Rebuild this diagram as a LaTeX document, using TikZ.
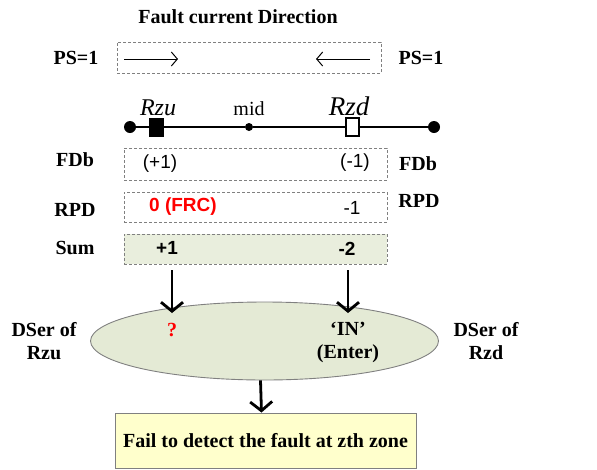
\documentclass[tikz,border=0pt]{standalone}
\usepackage{fontspec}
\setmainfont{Liberation Serif}
\setsansfont{Liberation Sans}
\usepackage{xcolor}
\usetikzlibrary{arrows.meta,positioning,shapes.geometric}

\definecolor{sumgreen}{HTML}{E9EEDD}
\definecolor{dsergreen}{HTML}{E4EAD5}
\definecolor{failyellow}{HTML}{FFFFCC}

\tikzset{
  lab/.style={font=\fontsize{20}{23}\selectfont\bfseries, inner sep=0pt},
  num/.style={font=\fontsize{19}{22}\selectfont\sffamily, inner sep=0pt},
  dbox/.style={draw=gray, dash pattern=on 3pt off 2pt, line width=0.9pt,
    inner sep=0pt, minimum width=263pt},
  relay/.style={draw, line width=1.2pt, minimum width=13pt, minimum height=18pt,
    inner sep=0pt},
  bus/.style={circle, fill, inner sep=0pt},
  bigarrow/.style={line width=2.8pt, -{Straight Barb[length=9pt,width=22pt]}},
}

\begin{document}
\begin{tikzpicture}[x=1pt, y=-1pt]
  \useasboundingbox (0,0) rectangle (597,469);

  % Title
  \node[lab] (title) at (238,17) {Fault current Direction};

  % PS box with the two current arrows
  \node[dbox, minimum width=264pt, minimum height=31pt] (psbox) at (249,57.5) {};
  \node[lab, left=18pt of psbox] (psL) {PS=1};
  \node[lab, right=17pt of psbox] (psR) {PS=1};
  \coordinate (arrLa) at (124,59);
  \coordinate (arrLb) at (178,59);
  \coordinate (arrRa) at (370,59);
  \coordinate (arrRb) at (316,59);
  \draw[line width=1pt, -{Straight Barb[length=6pt,width=14pt]}] (arrLa) -- (arrLb);
  \draw[line width=1pt, -{Straight Barb[length=6pt,width=14pt]}] (arrRa) -- (arrRb);

  % Protected line
  \node[bus, minimum size=12pt] (endL) at (130,127) {};
  \node[bus, minimum size=12pt] (endR) at (434,127) {};
  \node[bus, minimum size=8pt] (mid) at (249,127) {};
  \draw[line width=1.2pt] (endL) -- (mid) -- (endR);
  \node[relay, fill=black] (rzu) at (156.5,127.5) {};
  \node[relay, fill=white] (rzd) at (352.5,127) {};
  \node[font=\fontsize{24}{26}\selectfont\itshape, anchor=base, inner sep=0pt]
    (rzuT) at (158,115) {Rzu};
  \node[font=\fontsize{27}{29}\selectfont\itshape, anchor=base, inner sep=0pt]
    (rzdT) at (349,115) {Rzd};
  \node[font=\fontsize{20}{22}\selectfont, anchor=base, inner sep=0pt]
    (midT) at (249,115) {mid};

  % FDb / RPD / Sum rows
  \node[dbox, minimum height=32pt] (fdb) at (255.5,164) {};
  \node[dbox, minimum height=30pt] (rpd) at (255.5,207) {};
  \node[dbox, fill=sumgreen, minimum height=30pt] (sum) at (255.5,249) {};

  \node[lab] (fdbL) at (75,160) {FDb};
  \node[lab] (fdbR) at (418,164) {FDb};
  \node[lab] (rpdL) at (75,210) {RPD};
  \node[lab] (rpdR) at (419,201) {RPD};
  \node[lab] (sumL) at (75,248) {Sum};

  \node[num] (fdbU) at (160,164) {(+1)};
  \node[num] (fdbD) at (355,163) {(-1)};
  \node[num, font=\fontsize{19}{22}\selectfont\sffamily\bfseries, text=red]
    (rpdU) at (183,207) {0 (FRC)};
  \node[num] (rpdD) at (352,208) {-1};
  \node[num, font=\fontsize{19}{22}\selectfont\sffamily\bfseries]
    (sumU) at (167,248) {+1};
  \node[num, font=\fontsize{19}{22}\selectfont\sffamily\bfseries]
    (sumD) at (347,249) {-2};

  % DSer ellipse
  \node[ellipse, draw=gray, fill=dsergreen, line width=0.9pt,
    minimum width=348pt, minimum height=78pt, inner sep=0pt] (dser) at (264.5,341) {};
  \node[lab, text=red] (dserU) at (172,330) {?};
  \node[lab, align=center] (dserD) at (348,342) {`IN'\\(Enter)};
  \node[lab, align=center] (dserL) at (44,341) {DSer of\\Rzu};
  \node[lab, align=center] (dserR) at (486,341) {DSer of\\Rzd};

  \coordinate (dropU) at (172,270);
  \coordinate (dropD) at (348,270);
  \coordinate (hitU) at (172,313);
  \coordinate (hitD) at (348,313);
  \draw[bigarrow] (dropU) -- (hitU);
  \draw[bigarrow] (dropD) -- (hitD);

  % Result
  \node[draw=gray, fill=failyellow, line width=0.9pt, minimum width=301pt,
    minimum height=55pt, font=\fontsize{20}{23}\selectfont\bfseries] (fail)
    at (265.5,440.5) {Fail to detect the fault at zth zone};
  \draw[bigarrow] ([xshift=-4pt]dser.south) -- ([xshift=-4pt]fail.north);
\end{tikzpicture}
\end{document}
